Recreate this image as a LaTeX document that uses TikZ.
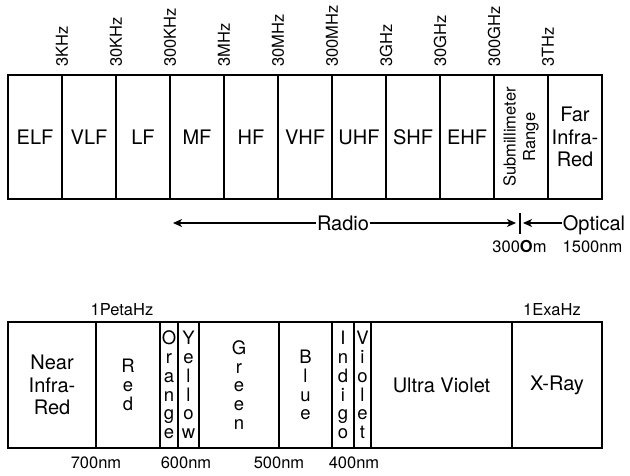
\documentclass[tikz,border=0pt]{standalone}
\usepackage{fontspec}
\setmainfont{TeX Gyre Heros}
\usetikzlibrary{arrows.meta}

\tikzset{
  band/.style={draw, line width=2pt, inner sep=0pt, outer sep=0pt, align=center,
    font=\fontsize{20}{22.5}\selectfont},
  topband/.style={band, minimum width=54pt, minimum height=124pt},
  lowband/.style={band, minimum height=126pt},
  stack/.style={font=\fontsize{18.5}{18.8}\selectfont},
  freq/.style={rotate=90, anchor=west, inner sep=0pt, font=\fontsize{16.5}{18}\selectfont},
  waveln/.style={inner sep=0pt, font=\fontsize{16.5}{18}\selectfont},
  region/.style={inner sep=1pt, text height=14.4pt, text depth=0pt, font=\fontsize{20}{22}\selectfont},
  arr/.style={-{Stealth[length=9pt, width=8pt, inset=2.5pt]}, line width=1.3pt},
}

\begin{document}
\begin{tikzpicture}[x=1pt, y=-1pt]
  \useasboundingbox (0,0) rectangle (630,475);
  % radio bands
  \node[topband] (elf) at (35,137) {ELF};
  \node[topband] (vlf) at (89,137) {VLF};
  \node[topband] (lf) at (143,137) {LF};
  \node[topband] (mf) at (197,137) {MF};
  \node[topband] (hf) at (251,137) {HF};
  \node[topband] (vhf) at (305,137) {VHF};
  \node[topband] (uhf) at (359,137) {UHF};
  \node[topband] (shf) at (413,137) {SHF};
  \node[topband] (ehf) at (467,137) {EHF};
  \node[topband] (submm) at (521,137) {};
  \node[topband] (fir) at (575,137) {Far\\Infra-\\Red};
  \node[rotate=90, align=center, inner sep=0pt, font=\fontsize{16.5}{19.5}\selectfont]
    (submmtxt) at (submm) {Submillimeter\\Range};
  % frequency marks
  \node[freq] (f3k) at ([yshift=8pt]elf.north east) {3KHz};
  \node[freq] (f30k) at ([yshift=8pt]vlf.north east) {30KHz};
  \node[freq] (f300k) at ([yshift=8pt]lf.north east) {300KHz};
  \node[freq] (f3m) at ([yshift=8pt]mf.north east) {3MHz};
  \node[freq] (f30m) at ([yshift=8pt]hf.north east) {30MHz};
  \node[freq] (f300m) at ([yshift=8pt]vhf.north east) {300MHz};
  \node[freq] (f3g) at ([yshift=8pt]uhf.north east) {3GHz};
  \node[freq] (f30g) at ([yshift=8pt]shf.north east) {30GHz};
  \node[freq] (f300g) at ([yshift=8pt]ehf.north east) {300GHz};
  \node[freq] (f3t) at ([yshift=8pt]submm.north east) {3THz};
  % radio / optical split
  \node[region] (radio) at (343,223) {Radio};
  \node[region] (optical) at (594,223) {Optical};
  \coordinate (radiotip) at (173,223);
  \coordinate (split) at (519.5,223);
  \coordinate (splittip) at (516,223);
  \coordinate (opttip) at (523,223);
  \draw[arr] (radio) -- (radiotip);
  \draw[arr] (radio) -- (splittip);
  \draw[arr] (optical) -- (opttip);
  \draw[line width=2pt] ([yshift=10.5pt]split) -- ([yshift=-10.5pt]split);
  \node[waveln] (w300u) at (519.5,247) {300{\bfseries O}m};
  \node[waveln] (w1500) at (592.5,247) {1500nm};
  % optical bands
  \node[lowband, minimum width=88pt] (nir) at (52,385) {Near\\Infra-\\Red};
  \node[lowband, minimum width=64pt, stack] (red) at (128,385) {R\\e\\d};
  \node[lowband, minimum width=18pt, stack] (orange) at (169,385) {O\\r\\a\\n\\g\\e};
  \node[lowband, minimum width=21pt, stack] (yellow) at (188.5,385) {Y\\e\\l\\l\\o\\w};
  \node[lowband, minimum width=80pt, stack] (green) at (239,385) {G\\r\\e\\e\\n};
  \node[lowband, minimum width=53pt, stack] (blue) at (305.5,385) {B\\l\\u\\e};
  \node[lowband, minimum width=22pt, stack] (indigo) at (343,385) {I\\n\\d\\i\\g\\o};
  \node[lowband, minimum width=17pt, stack] (violet) at (362.5,385) {V\\i\\o\\l\\e\\t};
  \node[lowband, minimum width=141pt] (uv) at (441.5,385) {Ultra Violet};
  \node[lowband, minimum width=90pt] (xray) at (557,385) {X-Ray};
  % labels round the optical bands
  \node[waveln] (peta) at (122,310) {1PetaHz};
  \node[waveln] (exa) at (552,310) {1ExaHz};
  \node[waveln, yshift=-15pt] (w700) at (red.south west) {700nm};
  \node[waveln] (w600) at (186,463) {600nm};
  \node[waveln, yshift=-15pt] (w500) at (blue.south west) {500nm};
  \node[waveln, yshift=-15pt] (w400) at (violet.south west) {400nm};
\end{tikzpicture}
\end{document}
